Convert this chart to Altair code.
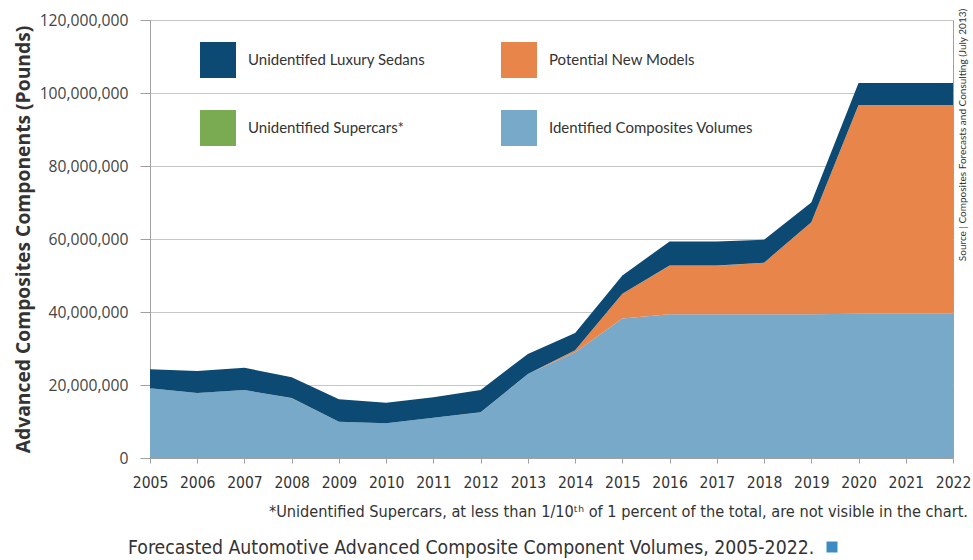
import altair as alt
import pandas as pd

# Forecast volumes by year, in millions of pounds
years = [2005, 2006, 2007, 2008, 2009, 2010, 2011, 2012, 2013,
         2014, 2015, 2016, 2017, 2018, 2019, 2020, 2021, 2022]
identified = [19.1, 17.8, 18.6, 16.4, 9.9, 9.5, 11.0, 12.5, 23.0,
              29.0, 38.2, 39.4, 39.4, 39.4, 39.4, 39.5, 39.5, 39.5]
potential = [0.0, 0.0, 0.0, 0.0, 0.0, 0.0, 0.0, 0.0, 0.0,
             0.5, 6.8, 13.3, 13.3, 14.1, 25.2, 57.2, 57.2, 57.2]
supercars = [0.02, 0.02, 0.02, 0.02, 0.02, 0.02, 0.02, 0.02, 0.02,
             0.02, 0.02, 0.02, 0.02, 0.02, 0.02, 0.02, 0.02, 0.02]
luxury = [5.2, 6.0, 6.1, 5.7, 6.2, 5.6, 5.6, 6.1, 5.5,
          4.7, 5.0, 6.6, 6.6, 6.3, 5.4, 6.0, 6.0, 6.0]

y_ticks = [0, 20_000_000, 40_000_000, 60_000_000, 80_000_000, 100_000_000, 120_000_000]

LUX = "Unidentifed Luxury Sedans"
NEW = "Potential New Models"
SUP = "Unidentified Supercars*"
IDN = "Identified Composites Volumes"

# legend fills column by column: (LUX, SUP) then (NEW, IDN)
legend_order = [LUX, SUP, NEW, IDN]
colors = ["#0c4a73", "#7aab52", "#e8854a", "#78a9c9"]
# stacking from the baseline up
stack_rank = {IDN: 0, NEW: 1, SUP: 2, LUX: 3}
series = {IDN: identified, NEW: potential, SUP: supercars, LUX: luxury}

rows = []
for name, vals in series.items():
    for yr, v in zip(years, vals):
        rows.append({"year": yr, "series": name, "pounds": v * 1_000_000,
                     "rank": stack_rank[name]})
df = pd.DataFrame(rows)

W, H = 803, 438
NARROW = "'DejaVu Sans Condensed', 'Liberation Sans Narrow', Roboto, sans-serif"

areas = alt.Chart(df).mark_area(interpolate="linear").encode(
    x=alt.X("year:Q",
            scale=alt.Scale(domain=[2005, 2022], nice=False, zero=False),
            axis=alt.Axis(values=years, format="d", title=None, grid=False,
                          labelFont=NARROW, labelFontSize=15.5,
                          labelColor="#333333", tickSize=5, tickColor="#a0a0a0",
                          domainColor="#a0a0a0", labelPadding=12,
                          labelOverlap=False, labelFlush=False)),
    y=alt.Y("pounds:Q", stack="zero",
            scale=alt.Scale(domain=[0, 120_000_000], nice=False),
            axis=alt.Axis(values=y_ticks, format=",d",
                          title="Advanced Composites Components (Pounds)",
                          titleFont="Open Sans", titleFontSize=19.3,
                          titleFontWeight="bold", titleColor="#333333",
                          titleAngle=270, titleX=-127, titleY=H / 2,
                          titleAlign="center", titleBaseline="middle",
                          labelFont="Open Sans", labelFontSize=15.7,
                          labelColor="#444444", tickSize=10,
                          tickColor="#a0a0a0", domainColor="#a0a0a0",
                          labelPadding=12, gridColor="#c6c6c6",
                          gridWidth=1)),
    color=alt.Color("series:N",
                    scale=alt.Scale(domain=legend_order, range=colors),
                    legend=alt.Legend(title=None, orient="none",
                                      legendX=50, legendY=22, columns=2,
                                      symbolType="square", symbolSize=1296,
                                      symbolStrokeWidth=0, labelFont="Lato",
                                      labelFontSize=15, labelColor="#333333",
                                      labelOffset=12, labelLimit=400,
                                      columnPadding=75, rowPadding=32,
                                      padding=0)),
    order=alt.Order("rank:Q"),
)

one = alt.Data(values=[{}])

source = alt.Chart(one).mark_text(
    text="Source | Composites Forecasts and Consulting (July 2013)",
    angle=270, align="center", baseline="middle",
    font="Lato", fontSize=10, color="#333333",
).encode(x=alt.value(W + 10), y=alt.value(115))

footnote = alt.Chart(one).mark_text(
    text="*Unidentified Supercars, at less than 1/10\u1d57\u02b0 of 1 percent of the total, are not visible in the chart.",
    align="right", baseline="middle",
    font=NARROW, fontSize=16.2, color="#333333",
).encode(x=alt.value(W + 15), y=alt.value(H + 54))

caption = alt.Chart(one).mark_text(
    text="Forecasted Automotive Advanced Composite Component Volumes, 2005-2022.",
    align="left", baseline="middle",
    font=NARROW, fontSize=19.3, color="#333333",
).encode(x=alt.value(-22), y=alt.value(H + 90))

marker = alt.Chart(one).mark_square(
    size=121, color="#3d8bc2", opacity=1,
).encode(x=alt.value(682), y=alt.value(H + 89))

chart = alt.layer(areas, source, footnote, caption, marker).properties(
    width=W, height=H,
    autosize=alt.AutoSizeParams(type="none"),
    padding={"left": 150, "top": 20, "right": 20, "bottom": 102},
    background="white",
).configure_view(stroke="#a0a0a0", strokeWidth=1)

chart.save("out.html", embed_options={"renderer": "svg", "actions": False})
